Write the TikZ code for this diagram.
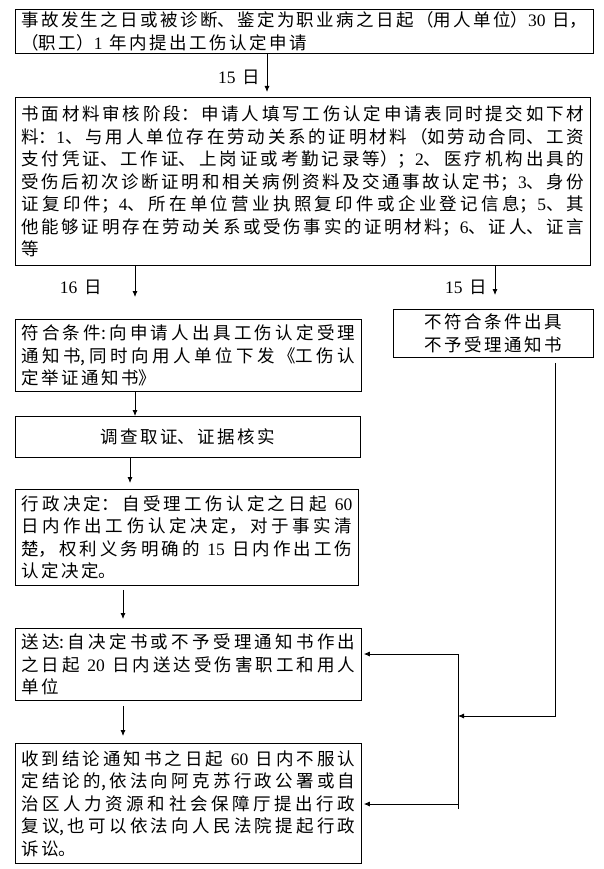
\documentclass[tikz,border=0pt]{standalone}
\usepackage{fontspec}
\setmainfont[WordSpace=1.8]{Noto Sans CJK SC}
\newfontfamily\latinfont{Liberation Serif}
\usetikzlibrary{arrows.meta}
\tikzset{>={Latex[length=6pt,width=5pt]}}
\XeTeXlinebreaklocale "zh"
\XeTeXlinebreakskip=2.5pt plus 4pt minus 1pt
\tolerance=10000
\newcommand{\numf}[1]{{\latinfont #1}}

\begin{document}
\begin{tikzpicture}[x=1pt,y=-1pt,line width=.8pt,
    box/.style={draw,anchor=north west,inner xsep=6pt,inner ysep=0pt,align=justify,font=\fontsize{17.5}{22.5}\selectfont},
    lbl/.style={font=\fontsize{17.5}{22.5}\selectfont}]
  \useasboundingbox (0,0) rectangle (604,869);

  % Application
  \node[box,text width=566pt,minimum height=44pt] (apply) at (15,9) {事故发生之日或被诊断、鉴定为职业病之日起（用人单位）\numf{30} 日，\linebreak （职工）\numf{1} 年内提出工伤认定申请};

  % Written review
  \node[box,text width=563pt,minimum height=168pt] (review) at (15,97) {书面材料审核阶段：申请人填写工伤认定申请表同时提交如下材\linebreak 料：\numf{1}、与用人单位存在劳动关系的证明材料（如劳动合同、工资\linebreak 支付凭证、工作证、上岗证或考勤记录等）；\numf{2}、医疗机构出具的\linebreak 受伤后初次诊断证明和相关病例资料及交通事故认定书；\numf{3}、身份\linebreak 证复印件；\numf{4}、所在单位营业执照复印件或企业登记信息；\numf{5}、其\linebreak 他能够证明存在劳动关系或受伤事实的证明材料；\numf{6}、证人、证言\linebreak 等};

  % Two branches
  \node[box,text width=334pt,minimum height=72pt] (accept) at (15,319) {符合条件:向申请人出具工伤认定受理\linebreak 通知书,同时向用人单位下发《工伤认\linebreak 定举证通知书》};
  \node[box,text width=188pt,minimum height=48pt,align=flush center] (reject) at (393,309) {不符合条件出具\\不予受理通知书};

  % Left column
  \node[box,text width=333pt,minimum height=41pt,align=flush center] (check) at (15,416) {调查取证、证据核实};
  \node[box,text width=331pt,minimum height=96pt] (decide) at (15,489) {行政决定：自受理工伤认定之日起 \numf{60}\linebreak 日内作出工伤认定决定，对于事实清\linebreak 楚，权利义务明确的 \numf{15} 日内作出工伤\linebreak 认定决定。};
  \node[box,text width=334pt,minimum height=72pt] (deliver) at (15,628) {送达:自决定书或不予受理通知书作出\linebreak 之日起 \numf{20} 日内送达受伤害职工和用人\linebreak 单位};
  \node[box,text width=334pt,minimum height=120pt] (appeal) at (15,743) {收到结论通知书之日起 \numf{60} 日内不服认\linebreak 定结论的,依法向阿克苏行政公署或自\linebreak 治区人力资源和社会保障厅提出行政\linebreak 复议,也可以依法向人民法院提起行政\linebreak 诉讼。};

  % Day labels
  \node[lbl,anchor=east] (d15a) at (264,77) {\numf{15} 日};
  \node[lbl] (d16) at (81,287) {\numf{16} 日};
  \node[lbl,anchor=east] (d15b) at (491,287) {\numf{15} 日};

  % Arrows down the left
  \draw[->,shorten >=5pt] (apply.south -| 267,0) -- (review.north -| 267,0);
  \draw[->,shorten >=22pt] (review.south -| 135,0) -- (accept.north -| 135,0);
  \draw[->,shorten >=14pt] (review.south -| 495,0) -- (reject.north -| 495,0);
  \draw[->] (accept.south -| 135,0) -- (check.north -| 135,0);
  \draw[->,shorten >=6pt] (check.south -| 130,0) -- (decide.north -| 130,0);
  \draw[->,shorten <=4pt,shorten >=9pt] (decide.south -| 123,0) -- (deliver.north -| 123,0);
  \draw[->,shorten <=5pt,shorten >=7pt] (deliver.south -| 123,0) -- (appeal.north -| 123,0);

  % Return line from the right
  \coordinate (fork) at (458,716);
  \coordinate (forkup) at (458,654);
  \coordinate (forkdown) at (458,804);
  \coordinate (forkend) at (458,809);
  \draw[->,shorten <=5pt] (555,0 |- reject.south) |- (fork);
  \draw (forkup) -- (forkend);
  \draw[->,shorten >=2pt] (forkup) -- (forkup -| deliver.east);
  \draw[->,shorten >=2pt] (forkdown) -- (forkdown -| appeal.east);

\end{tikzpicture}
\end{document}
